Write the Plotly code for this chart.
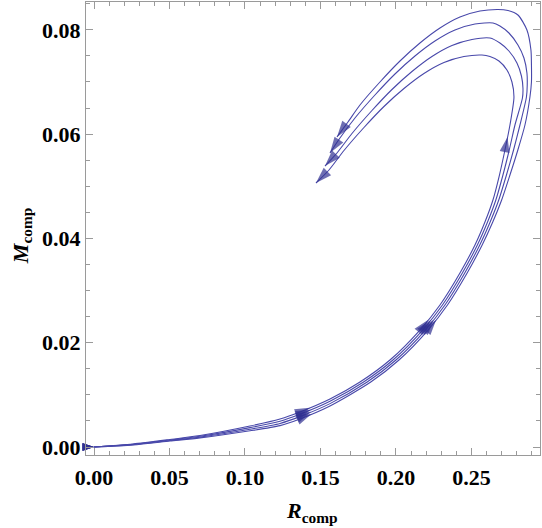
import plotly.graph_objects as go

# ---- data (R_comp, M_comp), innermost loop (1) to outermost (4) ----
R1 = [0.0, 0.0258, 0.0503, 0.0702, 0.1033, 0.1232, 0.1364, 0.1563, 0.17616, 0.19603, 0.21589,
      0.22914, 0.24238, 0.25232, 0.25894, 0.26424, 0.26854, 0.27219, 0.27550,
      0.27815, 0.27682, 0.27351, 0.26821, 0.26225, 0.25695,
      0.24503, 0.23179, 0.21854, 0.20530, 0.19205, 0.17881, 0.16556, 0.15563, 0.14702]
M1 = [0.0, 0.000575, 0.001438, 0.002205, 0.004027, 0.005369, 0.006711, 0.009204, 0.012464, 0.016683, 0.022435,
      0.027229, 0.033365, 0.038734, 0.043145, 0.047363, 0.052157, 0.056951, 0.061745,
      0.067114, 0.069990, 0.072291, 0.074017, 0.074880, 0.075168,
      0.074880, 0.073730, 0.071620, 0.068744, 0.065292, 0.061266, 0.056855, 0.053116, 0.050623]

R2 = [0.0, 0.0258, 0.0503, 0.0702, 0.1033, 0.1232, 0.1364, 0.1563, 0.17854, 0.19801, 0.21768,
      0.23079, 0.24397, 0.25391, 0.26066, 0.26616, 0.27086, 0.27503, 0.27881,
      0.28377, 0.28411, 0.28311, 0.28013, 0.27483, 0.26887, 0.26225,
      0.25033, 0.23709, 0.22384, 0.21060, 0.19735, 0.18411, 0.17086, 0.16093, 0.15298]
M2 = [0.0, 0.000518, 0.001342, 0.002052, 0.003720, 0.004947, 0.006270, 0.008763, 0.012464, 0.016683, 0.022435,
      0.027229, 0.033365, 0.038734, 0.043145, 0.047363, 0.052157, 0.056951, 0.061745,
      0.066922, 0.068840, 0.071141, 0.073634, 0.075935, 0.077469, 0.078428,
      0.078140, 0.076990, 0.074880, 0.072004, 0.068552, 0.064526, 0.060115, 0.056376, 0.053883]

R3 = [0.0, 0.0258, 0.0503, 0.0702, 0.1033, 0.1232, 0.1364, 0.1563, 0.18093, 0.20000, 0.21947,
      0.23245, 0.24556, 0.25550, 0.26238, 0.26808, 0.27318, 0.27788, 0.28212,
      0.28642, 0.28695, 0.28675, 0.28477, 0.28079, 0.27483, 0.26887, 0.26424,
      0.25232, 0.23907, 0.22583, 0.21258, 0.19934, 0.18609, 0.17285, 0.16291, 0.15629]
M3 = [0.0, 0.000460, 0.001246, 0.001898, 0.003413, 0.004525, 0.005829, 0.008322, 0.012464, 0.016683, 0.022435,
      0.027229, 0.033365, 0.038734, 0.043145, 0.047363, 0.052157, 0.056951, 0.061745,
      0.067114, 0.069415, 0.071716, 0.074592, 0.077085, 0.079386, 0.080729, 0.081304,
      0.081112, 0.079962, 0.077852, 0.074976, 0.071524, 0.067498, 0.063087, 0.059252, 0.056376]

R4 = [0.0, 0.0258, 0.0503, 0.0702, 0.1033, 0.1232, 0.1364, 0.1563, 0.18331, 0.20199, 0.22126,
      0.23411, 0.24715, 0.25709, 0.26411, 0.27000, 0.27550, 0.28073, 0.28543,
      0.28874, 0.28974, 0.28974, 0.28940, 0.28675, 0.28079, 0.27417, 0.26755,
      0.25563, 0.24238, 0.22914, 0.21589, 0.20265, 0.18940, 0.17616, 0.16821, 0.16093]
M4 = [0.0, 0.000403, 0.001151, 0.001745, 0.003106, 0.004104, 0.005388, 0.007881, 0.012464, 0.016683, 0.022435,
      0.027229, 0.033365, 0.038734, 0.043145, 0.047363, 0.052157, 0.056951, 0.061745,
      0.067114, 0.069990, 0.073250, 0.076127, 0.079962, 0.082838, 0.083701, 0.083893,
      0.083605, 0.082454, 0.080345, 0.077469, 0.074017, 0.069990, 0.065580, 0.062320, 0.059444]

curves = [(R1, M1), (R2, M2), (R3, M3), (R4, M4)]

# arrowheads along the curves: tail -> tip
arrow_tail_R = [0.13642, 0.13642, 0.13642, 0.13642, 0.21589, 0.21768, 0.21947, 0.22126, 0.27219]
arrow_tail_M = [0.006711, 0.006270, 0.005829, 0.005388, 0.022435, 0.022435, 0.022435, 0.022435, 0.056951]
arrow_tip_R = [0.14305, 0.14338, 0.14371, 0.14404, 0.22119, 0.22298, 0.22477, 0.22656, 0.27391]
arrow_tip_M = [0.007542, 0.007143, 0.006744, 0.006345, 0.024353, 0.024353, 0.024353, 0.024353, 0.059444]

x_ticks = [0.00, 0.05, 0.10, 0.15, 0.20, 0.25]
y_ticks = [0.00, 0.02, 0.04, 0.06, 0.08]

LINE = "rgb(72,72,170)"
HEAD = "rgb(48,48,145)"
FRAME = "#9a9a9a"

fig = go.Figure()
for R, M in curves:
    fig.add_trace(go.Scatter(x=R, y=M, mode="lines",
                             line=dict(color=LINE, width=1.1, shape="spline", smoothing=0.7),
                             hoverinfo="skip", showlegend=False))

# arrow heads: pairs (tail, tip), marker only on the tip
ax, ay, sizes = [], [], []
for i in range(len(arrow_tip_R)):
    ax += [arrow_tail_R[i], arrow_tip_R[i]]
    ay += [arrow_tail_M[i], arrow_tip_M[i]]
    sizes += [0, 16]
for R, M in curves:
    ax += [R[-2], R[-1]]
    ay += [M[-2], M[-1]]
    sizes += [0, 17]
fig.add_trace(go.Scatter(x=ax, y=ay, mode="markers",
                         marker=dict(symbol="arrow", size=sizes, angleref="previous",
                                     color=HEAD, line=dict(width=0)),
                         cliponaxis=False, hoverinfo="skip", showlegend=False))
# start arrows at the origin, pointing right
fig.add_trace(go.Scatter(x=[R[0] for R, M in curves], y=[M[0] for R, M in curves], mode="markers",
                         marker=dict(symbol="arrow", size=12, angle=90, color=HEAD, line=dict(width=0)),
                         cliponaxis=False, hoverinfo="skip", showlegend=False))

tickfont = dict(family="Liberation Serif", size=22, color="black", weight="bold")
axis_common = dict(showline=True, linecolor=FRAME, linewidth=1, mirror="ticks",
                   ticks="inside", ticklen=7, tickcolor=FRAME, tickwidth=1,
                   showgrid=False, zeroline=False, tickfont=tickfont, tickformat=".2f")

fig.update_xaxes(range=[-0.0053, 0.2954], tickvals=x_ticks, ticklabelstandoff=3,
                 minor=dict(dtick=0.01, tick0=0, ticks="inside", ticklen=4, tickcolor=FRAME, showgrid=False),
                 **axis_common)
fig.update_yaxes(range=[-0.00153, 0.08533], tickvals=y_ticks,
                 minor=dict(dtick=0.005, tick0=0, ticks="inside", ticklen=4, tickcolor=FRAME, showgrid=False),
                 **axis_common)

title_font = dict(family="Liberation Serif", size=22, color="black")
fig.add_annotation(text="<b><i>R</i></b><sub><b>comp</b></sub>", xref="paper", yref="paper",
                   x=0.498, y=-0.126, xanchor="center", yanchor="middle",
                   showarrow=False, font=title_font)
fig.add_annotation(text="<b><i>M</i></b><sub><b>comp</b></sub>", xref="paper", yref="paper",
                   x=-0.141, y=0.483, xanchor="center", yanchor="middle", textangle=-90,
                   showarrow=False, font=title_font)

fig.update_layout(width=542, height=528, margin=dict(l=86, r=2, t=2, b=73, autoexpand=False),
                  plot_bgcolor="white", paper_bgcolor="white")

fig.write_html("out.html")
